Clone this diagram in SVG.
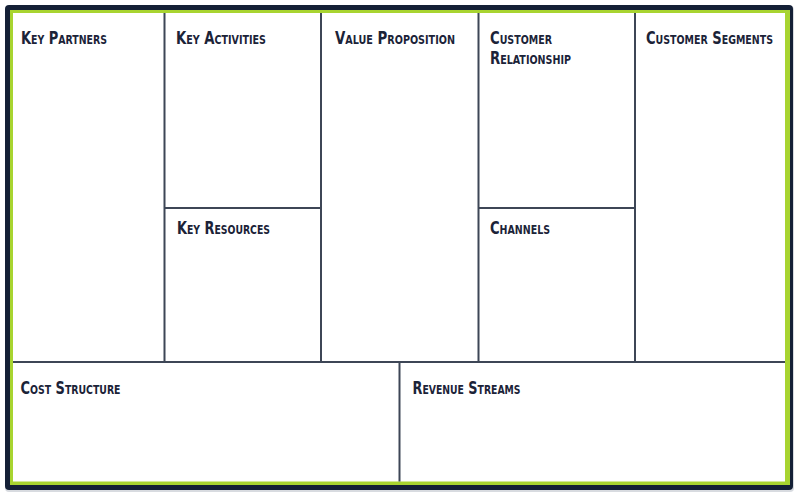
<svg xmlns="http://www.w3.org/2000/svg" width="800" height="496" viewBox="0 0 800 496">
<style>
.lbl{font-family:"DejaVu Sans Condensed","DejaVu Sans","Liberation Sans",sans-serif;font-weight:bold;font-size:18px;font-variant:small-caps;fill:#1b2338;font-stretch:condensed}
.grid line{stroke:#3d4656;stroke-width:2}
</style>
<rect x="0" y="0" width="800" height="496" fill="#ffffff"/>
<g id="frame">
<rect x="5" y="6" width="789" height="486" rx="4" fill="#d8dbe0"/>
<rect x="5" y="5" width="788" height="485" rx="4" fill="#142036"/>
<rect x="10" y="10" width="780" height="475" fill="#a8d430"/>
<rect x="13" y="13" width="772" height="468.5" fill="#ffffff"/>
</g>
<g id="grid" class="grid">
<line x1="164.5" y1="13" x2="164.5" y2="362"/>
<line x1="321" y1="13" x2="321" y2="362"/>
<line x1="478.5" y1="13" x2="478.5" y2="362"/>
<line x1="635" y1="13" x2="635" y2="362"/>
<line x1="164.5" y1="208" x2="321" y2="208"/>
<line x1="478.5" y1="208" x2="635" y2="208"/>
<line x1="13" y1="362" x2="785" y2="362"/>
<line x1="399.5" y1="362" x2="399.5" y2="481.5"/>
</g>
<g id="key-partners"><text class="lbl" x="21" y="44" textLength="86" lengthAdjust="spacingAndGlyphs">Key Partners</text></g>
<g id="key-activities"><text class="lbl" x="176" y="44" textLength="90" lengthAdjust="spacingAndGlyphs">Key Activities</text></g>
<g id="key-resources"><text class="lbl" x="177" y="234" textLength="93" lengthAdjust="spacingAndGlyphs">Key Resources</text></g>
<g id="value-proposition"><text class="lbl" x="335" y="44" textLength="120" lengthAdjust="spacingAndGlyphs">Value Proposition</text></g>
<g id="customer-relationship"><text class="lbl" x="490" y="44" textLength="62" lengthAdjust="spacingAndGlyphs">Customer</text><text class="lbl" x="490" y="64" textLength="81" lengthAdjust="spacingAndGlyphs">Relationship</text></g>
<g id="channels"><text class="lbl" x="490" y="234" textLength="60" lengthAdjust="spacingAndGlyphs">Channels</text></g>
<g id="customer-segments"><text class="lbl" x="646" y="44" textLength="127" lengthAdjust="spacingAndGlyphs">Customer Segments</text></g>
<g id="cost-structure"><text class="lbl" x="20.5" y="394" textLength="100" lengthAdjust="spacingAndGlyphs">Cost Structure</text></g>
<g id="revenue-streams"><text class="lbl" x="412.5" y="394" textLength="108" lengthAdjust="spacingAndGlyphs">Revenue Streams</text></g>
</svg>
